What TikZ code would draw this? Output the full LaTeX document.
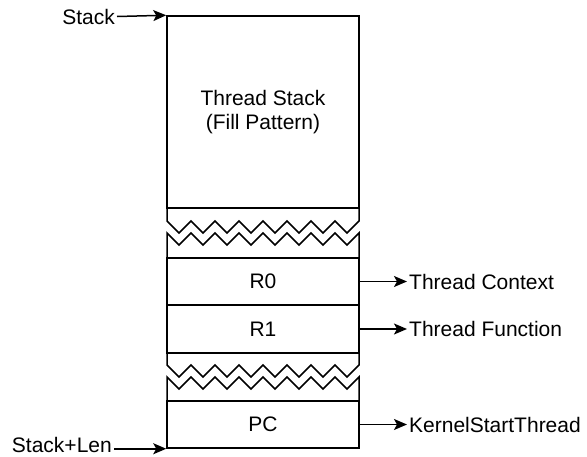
\documentclass[tikz,border=0pt]{standalone}
\usepackage{fontspec}
\setmainfont{Liberation Sans}
\usetikzlibrary{arrows.meta}
\begin{document}
\begin{tikzpicture}[x=1pt,y=-1pt,
  box/.style={draw,line width=1.5pt,minimum width=192pt,inner sep=0pt,align=center,font=\fontsize{21}{24}\selectfont},
  lbl/.style={inner xsep=2pt,inner ysep=0pt,font=\fontsize{21}{24}\selectfont},
  conn/.style={line width=1.5pt,-{Stealth[length=13pt,width=11pt,inset=3pt]}},
  zig/.style={line width=1.5pt,line join=miter}]
\useasboundingbox (0,0) rectangle (587,456);
% boxes
\node[box,minimum height=192pt] (ts) at (263,112) {Thread Stack\\(Fill Pattern)};
\node[box,minimum height=47pt] (r0) at (263,281.5) {R0};
\node[box,minimum height=48pt] (r1) at (263,329) {R1};
\node[box,minimum height=47pt] (pc) at (263,424.5) {PC};
% zigzag break 1
\draw[zig] (167,209) -- (167,221) \foreach \i in {0,...,7} { -- ({179+24*\i},233) -- ({191+24*\i},221) } -- (359,209);
\draw[zig] (167,258) -- (167,233) \foreach \i in {0,...,7} { -- ({179+24*\i},245) -- ({191+24*\i},233) } -- (359,258);
% zigzag break 2
\draw[zig] (167,353) -- (167,365) \foreach \i in {0,...,7} { -- ({179+24*\i},377) -- ({191+24*\i},365) } -- (359,353);
\draw[zig] (167,401) -- (167,377) \foreach \i in {0,...,7} { -- ({179+24*\i},389) -- ({191+24*\i},377) } -- (359,401);
% labels
\node[lbl,anchor=east] (stk) at (117,16.5) {Stack};
\node[lbl,anchor=east] (stl) at (114,445) {Stack+Len};
\node[lbl,anchor=west] (ctx) at (407,281.5) {Thread Context};
\node[lbl,anchor=west] (fn) at (407,329) {Thread Function};
\node[lbl,anchor=west] (kst) at (407,424.5) {KernelStartThread};
% connectors
\draw[conn] (stk.east) -- (ts.north west);
\draw[conn] (stl.east |- pc.south) -- (pc.south west);
\draw[conn] (r0.east) -- (ctx.west);
\draw[conn] (r1.east) -- (fn.west);
\draw[conn] (pc.east) -- (kst.west);
\end{tikzpicture}
\end{document}
